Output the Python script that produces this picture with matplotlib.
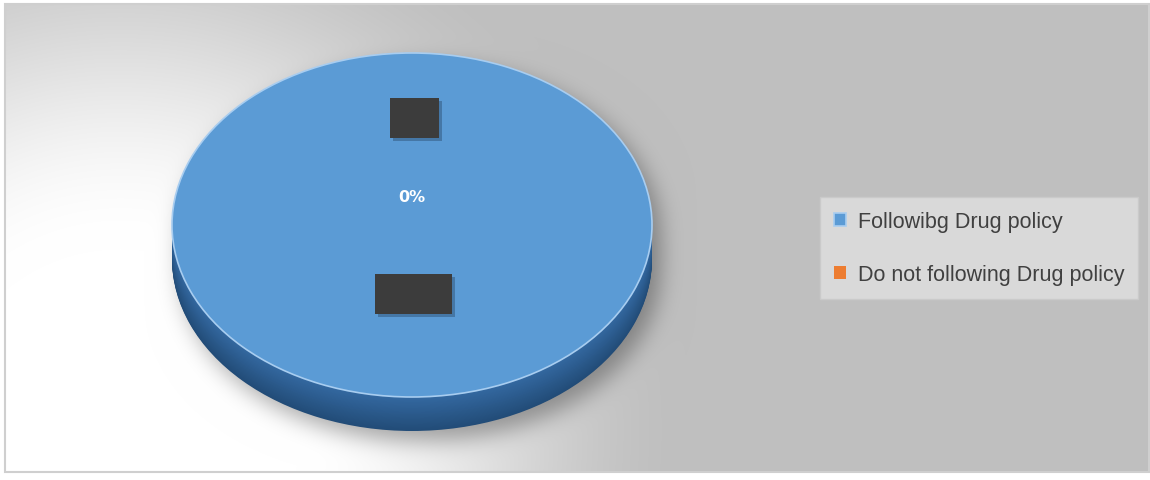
import numpy as np
import matplotlib.pyplot as plt
from matplotlib.colors import to_rgb
from matplotlib.patches import Rectangle

# drug policy survey
labels = ['Followibg Drug policy', 'Do not following Drug policy']
values = [100, 0]
top_colors = ['#5b9bd5', '#ed7d31']
side_dark = ['#224c78', '#9a4e1c']
side_light = ['#3469a1', '#c0662a']

W, H = 1150, 481
fig = plt.figure(figsize=(W / 100, H / 100), dpi=100)
fig.patch.set_facecolor('white')

# background: chart area with a radial fade from the lower left + pie shadow
bg = fig.add_axes([0, 0, 1, 1])
bg.set_xlim(0, W)
bg.set_ylim(H, 0)
bg.axis('off')

x0, x1, y0, y1 = 5, 1149, 5, 473
yy, xx = np.mgrid[y0:y1, x0:x1].astype(float)
r = np.hypot(xx - 120, yy - 430)
t = np.clip((r - 180) / 390.0, 0, 1)
t = t * t * (3 - 2 * t)
grey = 255 - (255 - 191) * t

# pie silhouette (top face + depth), shifted and blurred for the shadow
cx, cy, rx, ry, depth = 412, 226, 240, 172, 34
sx, sy = cx + 8, cy + 10
u = (xx - sx) / rx
inside = np.abs(u) <= 1
half = ry * np.sqrt(np.clip(1 - u ** 2, 0, 1))
mask = (inside & (yy >= sy - half) & (yy <= sy + depth + half)).astype(float)
k = np.exp(-0.5 * (np.arange(-36, 37) / 11.0) ** 2)
k /= k.sum()
mask = np.apply_along_axis(lambda row: np.convolve(row, k, 'same'), 1, mask)
mask = np.apply_along_axis(lambda col: np.convolve(col, k, 'same'), 0, mask)
grey = grey * (1 - 0.33 * mask)

img = np.dstack([grey, grey, grey]) / 255.0
bg.imshow(img, extent=[x0, x1, y1, y0], aspect='auto', interpolation='bilinear')
bg.add_patch(Rectangle((x0, y0), x1 - x0, y1 - y0, fill=False,
                       edgecolor='#cfcfcf', linewidth=1.5))

# pie axes: one data unit = rx px across, ry px down
ax_l, ax_r = cx - 1.2 * rx, cx + 1.2 * rx
ax_t, ax_b = cy - 1.2 * ry, cy + 1.45 * ry
ax = fig.add_axes([ax_l / W, 1 - ax_b / H, (ax_r - ax_l) / W, (ax_b - ax_t) / H])

# side wall: stacked copies of the pie, darker towards the bottom
dz = depth / ry
n = 40
for i in range(n, 0, -1):
    f = i / n
    cols = [np.array(to_rgb(a)) + (np.array(to_rgb(b)) - np.array(to_rgb(a))) * f
            for a, b in zip(side_light, side_dark)]
    ax.pie(values, colors=cols, startangle=90, counterclock=False,
           center=(0, -dz * f), wedgeprops=dict(linewidth=0))

wedges, _ = ax.pie(values, colors=top_colors, startangle=90, counterclock=False,
                   wedgeprops=dict(linewidth=0))
wedges[0].set_edgecolor('#a8cdf0')
wedges[0].set_linewidth(1.2)

ax.set_aspect('auto')
ax.set_xlim(-1.2, 1.2)
ax.set_ylim(-1.45, 1.2)
ax.axis('off')

# data labels
pct = values[1] / sum(values) * 100
ax.text(0, 0.165, f'{pct:.0f}%', color='white', fontsize=11.5, fontweight='bold',
        ha='center', va='center', family='DejaVu Sans')


def label_box(xc, yc, w, h):
    w, h = w / rx, h / ry
    ax.add_patch(Rectangle((xc - w / 2 + 3 / rx, yc - h / 2 - 3 / ry), w, h,
                           facecolor='#1d3550', alpha=0.35, linewidth=0))
    ax.add_patch(Rectangle((xc - w / 2, yc - h / 2), w, h,
                           facecolor='#3c3c3c', linewidth=0))


label_box(0.01, 0.62, 49, 40)
label_box(0.005, -0.40, 77, 40)

# legend
leg = ax.legend(wedges, labels, loc='upper left',
                bbox_to_anchor=(820 / W, 1 - 198 / H), bbox_transform=fig.transFigure,
                prop={'family': 'Liberation Sans', 'size': 15.5},
                frameon=True, fancybox=False, facecolor='#d9d9d9', edgecolor='#cacaca',
                framealpha=1, handlelength=0.55, handleheight=0.55, handletextpad=0.55,
                labelspacing=1.5, borderpad=0.65, borderaxespad=0)
for txt in leg.get_texts():
    txt.set_color('#404040')

fig.savefig('out.png', dpi=100, facecolor='white')
